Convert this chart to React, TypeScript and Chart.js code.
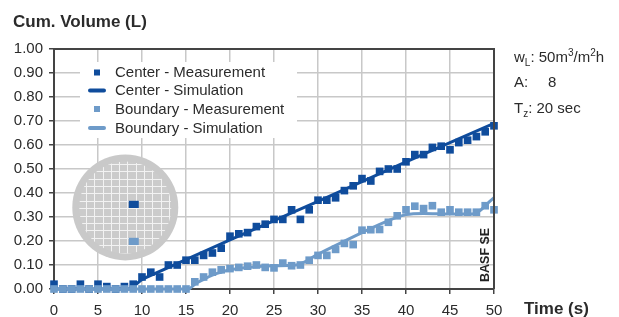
import React, { useEffect, useRef } from "react";
import { Chart, registerables } from "chart.js";

Chart.register(...registerables);

// ---- data ----
const timeSec = [
  0, 1, 2, 3, 4, 5, 6, 7, 8, 9, 10, 11, 12, 13, 14, 15, 16, 17, 18, 19, 20, 21, 22, 23, 24, 25,
  26, 27, 28, 29, 30, 31, 32, 33, 34, 35, 36, 37, 38, 39, 40, 41, 42, 43, 44, 45, 46, 47, 48, 49, 50,
];
const centerMeasured = [
  0.02, 0.0, 0.0, 0.02, 0.0, 0.02, 0.01, 0.0, 0.01, 0.02, 0.05, 0.07, 0.05, 0.1, 0.1, 0.12, 0.12,
  0.14, 0.15, 0.17, 0.22, 0.23, 0.235, 0.26, 0.27, 0.29, 0.29, 0.33, 0.29, 0.33, 0.37, 0.37, 0.38,
  0.41, 0.43, 0.46, 0.45, 0.49, 0.5, 0.5, 0.53, 0.56, 0.56, 0.59, 0.595, 0.58, 0.61, 0.62, 0.635,
  0.655, 0.68,
];
const boundaryMeasured = [
  0.0, 0.0, 0.0, 0.0, 0.0, 0.0, 0.0, 0.0, 0.0, 0.0, 0.0, 0.0, 0.0, 0.0, 0.0, 0.0, 0.03, 0.05, 0.07,
  0.08, 0.085, 0.09, 0.095, 0.1, 0.09, 0.088, 0.108, 0.097, 0.1, 0.12, 0.14, 0.14, 0.165, 0.19,
  0.185, 0.245, 0.247, 0.248, 0.278, 0.305, 0.33, 0.345, 0.335, 0.347, 0.32, 0.33, 0.32, 0.32, 0.32,
  0.347, 0.33,
];
const centerSimTime = [0, 8.7, 10, 20, 30, 40, 50];
const centerSimVol = [0, 0, 0.04, 0.205, 0.365, 0.53, 0.69];
const boundarySimTime = [0, 15.3, 16, 17, 18, 19, 20, 22, 25, 27.5, 30, 35, 38, 40, 42, 45, 47.5, 50];
const boundarySimVol = [
  0, 0, 0.02, 0.04, 0.058, 0.07, 0.08, 0.09, 0.097, 0.1, 0.145, 0.235, 0.285, 0.31, 0.315, 0.312,
  0.312, 0.38,
];
const seriesLabels = [
  "Center - Measurement",
  "Center - Simulation",
  "Boundary - Measurement",
  "Boundary - Simulation",
];

const DARK = "#0f4c9c";
const LIGHT = "#6e9bc9";
const TEXT = "#2b2b2b";
const FONT = '"Liberation Sans", Arial, Helvetica, sans-serif';

function drawRich(
  ctx: CanvasRenderingContext2D,
  x: number,
  y: number,
  parts: { t: string; s?: number; dy?: number }[]
) {
  let cx = x;
  for (const p of parts) {
    const size = p.s ?? 15;
    ctx.font = `${size}px ${FONT}`;
    ctx.fillText(p.t, cx, y + (p.dy ?? 0));
    cx += ctx.measureText(p.t).width;
  }
}

const decorPlugin = {
  id: "decor",
  beforeDatasetsDraw(chart: any) {
    const { ctx, scales } = chart;
    const xs = scales.x;
    const ys = scales.y;
    const cx = xs.getPixelForValue(8.1);
    const cy = ys.getPixelForValue(0.34);
    ctx.save();
    ctx.beginPath();
    ctx.arc(cx, cy, 53, 0, Math.PI * 2);
    ctx.fillStyle = "#c9c9c9";
    ctx.fill();
    ctx.beginPath();
    ctx.arc(cx, cy, 46, 0, Math.PI * 2);
    ctx.fillStyle = "#cbcbcb";
    ctx.fill();
    ctx.clip();
    ctx.strokeStyle = "#f2f2f2";
    ctx.lineWidth = 1;
    const dxs = 8.3;
    const dys = 7.4;
    for (let k = -7; k <= 7; k++) {
      const gx = Math.round(cx + 2.2 + k * dxs) + 0.5;
      ctx.beginPath();
      ctx.moveTo(gx, cy - 50);
      ctx.lineTo(gx, cy + 50);
      ctx.stroke();
      const gy = Math.round(cy + 0.8 + k * dys) + 0.5;
      ctx.beginPath();
      ctx.moveTo(cx - 50, gy);
      ctx.lineTo(cx + 50, gy);
      ctx.stroke();
    }
    ctx.restore();
    ctx.save();
    ctx.fillStyle = DARK;
    ctx.fillRect(cx + 3.5, cy + 0.8 - 7.4, 10, 7.2);
    ctx.fillStyle = LIGHT;
    ctx.fillRect(cx + 3.5, cy + 0.8 + 4 * 7.4, 10, 7.2);
    ctx.restore();
  },
  afterDatasetsDraw(chart: any) {
    const { ctx, chartArea } = chart;
    const { left, top, right, bottom } = chartArea;
    ctx.save();
    // top & right frame
    ctx.strokeStyle = "#444";
    ctx.lineWidth = 2;
    ctx.beginPath();
    ctx.moveTo(left, top);
    ctx.lineTo(right, top);
    ctx.lineTo(right, bottom);
    ctx.stroke();

    // legend
    const lx = left + 26;
    const ly = top + 13;
    ctx.fillStyle = "#ffffff";
    ctx.fillRect(lx, ly, 217, 76);
    const rows = [top + 23.5, top + 41.5, top + 60, top + 79];
    const colors = [DARK, DARK, LIGHT, LIGHT];
    rows.forEach((ry, i) => {
      ctx.fillStyle = colors[i];
      ctx.strokeStyle = colors[i];
      if (i % 2 === 0) {
        ctx.fillRect(left + 40, ry - 3, 6, 6);
      } else {
        ctx.lineWidth = 4;
        ctx.lineCap = "round";
        ctx.beginPath();
        ctx.moveTo(left + 36, ry);
        ctx.lineTo(left + 50, ry);
        ctx.stroke();
      }
      ctx.fillStyle = TEXT;
      ctx.font = `15px ${FONT}`;
      ctx.textBaseline = "middle";
      ctx.textAlign = "left";
      ctx.fillText(seriesLabels[i], left + 61, ry + 0.5);
    });

    // BASF SE
    ctx.save();
    ctx.translate(right - 8.5, bottom - 7);
    ctx.rotate(-Math.PI / 2);
    ctx.font = `bold 12.5px ${FONT}`;
    ctx.fillStyle = "#222";
    ctx.textBaseline = "middle";
    ctx.textAlign = "left";
    ctx.fillText("BASF SE", 0, 0);
    ctx.restore();

    // titles
    ctx.fillStyle = TEXT;
    ctx.textBaseline = "alphabetic";
    ctx.textAlign = "left";
    ctx.font = `bold 17px ${FONT}`;
    ctx.fillText("Cum. Volume (L)", 13, 27);
    ctx.fillText("Time (s)", right + 30, 314);

    // right-hand annotations
    const ax = right + 20;
    ctx.fillStyle = TEXT;
    drawRich(ctx, ax, top + 13, [
      { t: "w" },
      { t: "L", s: 10, dy: 4 },
      { t: ": 50m" },
      { t: "3", s: 10, dy: -6 },
      { t: "/m" },
      { t: "2", s: 10, dy: -6 },
      { t: "h" },
    ]);
    drawRich(ctx, ax, top + 38, [{ t: "A:" }]);
    drawRich(ctx, ax + 34, top + 38, [{ t: "8" }]);
    drawRich(ctx, ax, top + 64, [{ t: "T" }, { t: "z", s: 10, dy: 4 }, { t: ": 20 sec" }]);
    ctx.restore();
  },
};

export default function App() {
  const ref = useRef<HTMLCanvasElement | null>(null);

  useEffect(() => {
    if (!ref.current) return;
    const chart = new Chart(ref.current, {
      type: "scatter",
      data: {
        datasets: [
          {
            label: seriesLabels[2],
            data: timeSec.map((t, i) => ({ x: t, y: boundaryMeasured[i] })),
            pointStyle: "rect",
            pointRadius: 5.4,
            backgroundColor: LIGHT,
            borderWidth: 0,
            showLine: false,
            clip: false,
            order: 1,
          },
          {
            label: seriesLabels[3],
            data: boundarySimTime.map((t, i) => ({ x: t, y: boundarySimVol[i] })),
            showLine: true,
            borderColor: LIGHT,
            borderWidth: 3,
            pointRadius: 0,
            cubicInterpolationMode: "monotone",
            clip: false,
            order: 2,
          },
          {
            label: seriesLabels[0],
            data: timeSec.map((t, i) => ({ x: t, y: centerMeasured[i] })),
            pointStyle: "rect",
            pointRadius: 5.4,
            backgroundColor: DARK,
            borderWidth: 0,
            showLine: false,
            clip: false,
            order: 3,
          },
          {
            label: seriesLabels[1],
            data: centerSimTime.map((t, i) => ({ x: t, y: centerSimVol[i] })),
            showLine: true,
            borderColor: DARK,
            borderWidth: 3,
            pointRadius: 0,
            tension: 0,
            clip: false,
            order: 4,
          },
        ] as any,
      },
      options: {
        responsive: false,
        animation: false,
        devicePixelRatio: 1,
        layout: { padding: { left: 0, right: 125, top: 49, bottom: 0 } },
        plugins: { legend: { display: false }, tooltip: { enabled: false } },
        scales: {
          x: {
            type: "linear",
            min: 0,
            max: 50,
            ticks: {
              stepSize: 5,
              color: TEXT,
              font: { family: FONT, size: 15 },
              padding: 8,
              maxRotation: 0,
            },
            grid: { color: "#c8c8c8", lineWidth: 1.5, tickLength: 5, tickColor: "#444" },
            border: { color: "#444", width: 2 },
            afterFit: (s: any) => {
              s.height = 28;
            },
          },
          y: {
            type: "linear",
            min: 0,
            max: 1,
            ticks: {
              stepSize: 0.1,
              color: TEXT,
              font: { family: FONT, size: 15 },
              padding: 6,
              callback: (v: any) => Number(v).toFixed(2),
            },
            grid: { color: "#c8c8c8", lineWidth: 1.5, tickLength: 5, tickColor: "#444" },
            border: { color: "#444", width: 2 },
            afterFit: (s: any) => {
              s.width = 54;
            },
          },
        },
      },
      plugins: [decorPlugin],
    });
    return () => chart.destroy();
  }, []);

  return (
    <div
      style={{
        position: "fixed",
        left: 0,
        top: 0,
        width: 619,
        height: 317,
        background: "#ffffff",
      }}
    >
      <canvas ref={ref} width={619} height={317} style={{ display: "block" }} />
    </div>
  );
}
